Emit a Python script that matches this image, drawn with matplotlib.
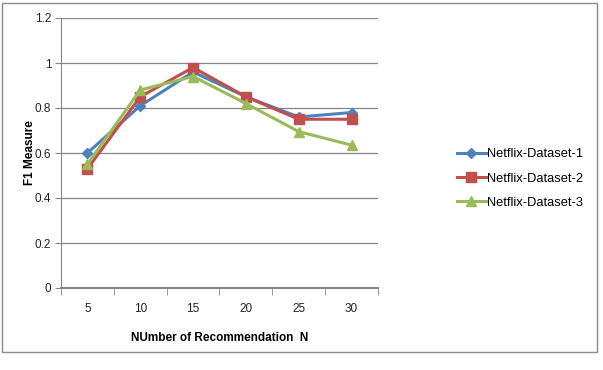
import matplotlib.pyplot as plt
from matplotlib.patches import Rectangle

# data
n_values = ['5', '10', '15', '20', '25', '30']
dataset_1 = [0.60, 0.81, 0.96, 0.85, 0.76, 0.78]
dataset_2 = [0.53, 0.85, 0.98, 0.85, 0.75, 0.75]
dataset_3 = [0.55, 0.88, 0.94, 0.82, 0.695, 0.635]
series_names = ['Netflix-Dataset-1', 'Netflix-Dataset-2', 'Netflix-Dataset-3']
y_ticks = [0, 0.2, 0.4, 0.6, 0.8, 1, 1.2]
y_tick_labels = ['0', '0.2', '0.4', '0.6', '0.8', '1', '1.2']

plt.rcParams['font.family'] = ['Liberation Sans', 'DejaVu Sans']

fig = plt.figure(figsize=(6.03, 3.70), dpi=100)
# outer chart border
fig.patches.append(Rectangle((2 / 603, 1 - 352 / 370), 595 / 603, 349 / 370,
                             transform=fig.transFigure, fill=False,
                             edgecolor='#8c8c8c', linewidth=1))

ax = fig.add_axes([61 / 603, 82 / 370, 317 / 603, 270 / 370])

x = list(range(len(n_values)))
styles = [('#4F81BD', 'D', 5), ('#C0504D', 's', 7), ('#9BBB59', '^', 7.5)]
for vals, name, (col, mk, ms) in zip([dataset_1, dataset_2, dataset_3], series_names, styles):
    ax.plot(x, vals, color=col, marker=mk, markersize=ms, linewidth=2.2,
            label=name, zorder=3)

ax.set_xlim(-0.5, len(n_values) - 0.5)
ax.set_ylim(0, 1.2)
ax.set_yticks(y_ticks)
ax.set_yticklabels(y_tick_labels)
ax.set_xticks(x)
ax.set_xticklabels(n_values)
ax.set_xticks([i - 0.5 for i in range(len(n_values) + 1)], minor=True)
ax.tick_params(axis='x', which='major', length=0, pad=11, labelsize=8.5, colors='#222222')
ax.tick_params(axis='x', which='minor', length=5, color='#868686', direction='out')
ax.tick_params(axis='y', length=4, color='#868686', pad=3, labelsize=8.5, labelcolor='#222222')

ax.grid(axis='y', color='#868686', linewidth=0.9)
ax.set_axisbelow(True)
for side in ['top', 'right']:
    ax.spines[side].set_visible(False)
ax.spines['left'].set_color('#868686')
ax.spines['bottom'].set_color('#868686')
ax.spines['bottom'].set_linewidth(1.5)

ax.set_xlabel('NUmber of Recommendation  N', fontsize=8.5, fontweight='bold', labelpad=12)
ax.set_ylabel('F1 Measure', fontsize=8.5, fontweight='bold', labelpad=-1)

ax.legend(loc='center left', bbox_to_anchor=(1.25, 0.405), frameon=False,
          fontsize=9.3, handlelength=2.2, handletextpad=0.1, labelspacing=0.95,
          borderaxespad=0, borderpad=0)

fig.savefig('out.png', dpi=100)
